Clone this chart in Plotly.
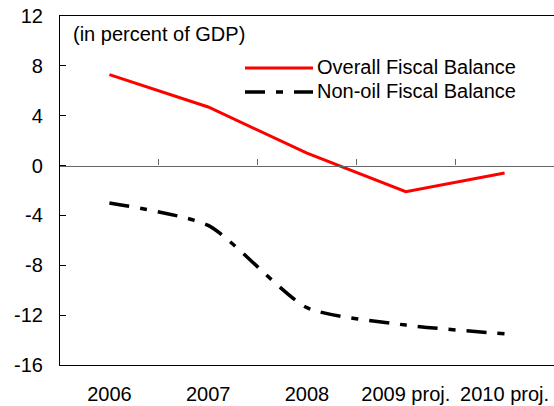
import plotly.graph_objects as go

# Fiscal balances, in percent of GDP
years = ["2006", "2007", "2008", "2009 proj.", "2010 proj."]
overall_balance = [7.3, 4.7, 1.0, -2.1, -0.6]
nonoil_balance = [-3.0, -4.8, -11.4, -12.8, -13.5]

y_ticks = [12, 8, 4, 0, -4, -8, -12, -16]
y_min, y_max = -16, 12

FONT = "Liberation Sans, Arial, sans-serif"
DASHDOT = "20px,11px,7px,11px"

n = len(years)
positions = list(range(n))

fig = go.Figure()

fig.add_trace(go.Scatter(
    x=years, y=overall_balance, mode="lines",
    line=dict(color="#ff0000", width=3),
    name="Overall Fiscal Balance", showlegend=False, hoverinfo="skip",
))
fig.add_trace(go.Scatter(
    x=years, y=nonoil_balance, mode="lines",
    line=dict(color="#000000", width=3.5, dash=DASHDOT, shape="spline", smoothing=0.6),
    name="Non-oil Fiscal Balance", showlegend=False, hoverinfo="skip",
))
# Invisible helper so the zero-line axis (x2) gets drawn
fig.add_trace(go.Scatter(
    x=positions, y=[0] * n, xaxis="x2", mode="lines",
    line=dict(width=0), opacity=0, showlegend=False, hoverinfo="skip",
))

# Axis line through zero with ticks between categories
zero_pos = (0 - y_min) / (y_max - y_min)

fig.update_layout(
    width=554, height=406,
    margin=dict(l=60, r=0, t=16, b=41),
    paper_bgcolor="white", plot_bgcolor="white",
    font=dict(family=FONT, size=20, color="black"),
    xaxis=dict(
        type="category", categoryarray=years, range=[-0.5, n - 0.5],
        showline=True, linecolor="black", linewidth=1.2, mirror=True,
        ticks="", showgrid=False, zeroline=False, automargin=False,
        tickfont=dict(size=20), ticklabelstandoff=11,
    ),
    xaxis2=dict(
        overlaying="x", anchor="free", position=zero_pos,
        range=[-0.5, n - 0.5],
        tickvals=[i + 0.5 for i in range(n - 1)],
        ticks="inside", ticklen=6, tickcolor="#666666", tickwidth=1,
        showline=True, linecolor="#666666", linewidth=1.2,
        showticklabels=False, showgrid=False, zeroline=False, automargin=False,
    ),
    yaxis=dict(
        range=[y_min, y_max], tickvals=y_ticks,
        ticktext=[str(v) for v in y_ticks],
        showline=True, linecolor="black", linewidth=1.2,
        ticks="inside", ticklen=6, tickcolor="black",
        showgrid=False, zeroline=False, automargin=False,
        tickfont=dict(size=20), ticklabelstandoff=12,
    ),
)

plot_h = 406 - 16 - 41
plot_w = 554 - 60


def px_x(px):
    return (px - 60) / plot_w


def px_y(py):
    return (406 - 41 - py) / plot_h


fig.add_annotation(
    text="(in percent of GDP)", xref="paper", yref="paper",
    x=px_x(71), y=px_y(34), xanchor="left", yanchor="middle",
    showarrow=False, font=dict(size=20),
)

# Legend drawn as sample lines with labels
legend_items = [
    ("Overall Fiscal Balance", dict(color="#ff0000", width=3), 68),
    ("Non-oil Fiscal Balance", dict(color="#000000", width=3.5, dash=DASHDOT), 92),
]
for label, style, ypix in legend_items:
    fig.add_shape(
        type="line", xref="paper", yref="paper",
        x0=px_x(245), x1=px_x(313), y0=px_y(ypix), y1=px_y(ypix),
        line=style,
    )
    fig.add_annotation(
        text=label, xref="paper", yref="paper",
        x=px_x(315), y=px_y(ypix - 1), xanchor="left", yanchor="middle",
        showarrow=False, font=dict(size=20),
    )

fig.write_html("out.html")
